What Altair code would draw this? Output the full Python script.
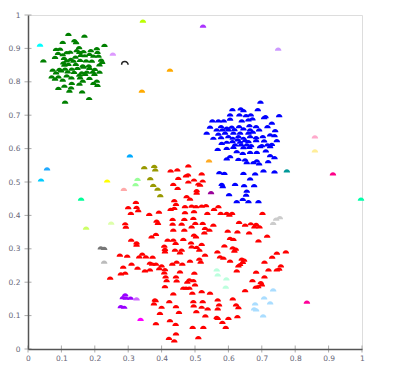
import altair as alt
import pandas as pd

# ---------------- data ----------------
green_x = [0.121,0.169,0.104,0.139,0.144,0.229,0.084,0.096,0.153,0.166,0.188,0.206,0.090,0.104,0.116,0.126,0.146,0.154,0.208,0.211,
           0.081,0.108,0.128,0.142,0.158,0.170,0.184,0.196,0.219,0.046,0.106,0.116,0.136,0.156,0.174,0.191,0.222,0.109,0.121,0.143,
           0.164,0.182,0.214,0.074,0.094,0.111,0.131,0.148,0.166,0.184,0.200,0.084,0.099,0.119,0.138,0.161,0.176,0.194,0.214,0.071,
           0.091,0.116,0.154,0.171,0.199,0.081,0.104,0.130,0.156,0.184,0.206,0.164,0.131,0.109,0.154,0.196,0.208,0.091,0.129,0.124,
           0.162,0.183,0.111]
green_y = [0.942,0.937,0.918,0.923,0.917,0.909,0.897,0.898,0.902,0.890,0.893,0.899,0.885,0.881,0.887,0.889,0.893,0.888,0.888,0.877,
           0.873,0.870,0.867,0.874,0.879,0.878,0.882,0.877,0.865,0.863,0.857,0.863,0.862,0.864,0.863,0.862,0.858,0.850,0.852,0.852,
           0.848,0.848,0.851,0.835,0.837,0.838,0.838,0.840,0.844,0.840,0.837,0.827,0.833,0.830,0.828,0.827,0.829,0.829,0.829,0.815,
           0.815,0.818,0.820,0.822,0.822,0.808,0.805,0.812,0.812,0.810,0.802,0.802,0.795,0.787,0.793,0.795,0.789,0.780,0.782,0.772,
           0.770,0.750,0.739]

blue_x = [0.696,0.612,0.637,0.645,0.688,0.605,0.633,0.653,0.667,0.711,0.752,0.552,0.570,0.586,0.605,0.640,0.660,0.672,0.707,0.730,
          0.545,0.578,0.595,0.610,0.632,0.663,0.683,0.717,0.535,0.565,0.582,0.600,0.618,0.645,0.665,0.692,0.740,0.570,0.590,0.615,
          0.635,0.660,0.673,0.738,0.555,0.578,0.600,0.613,0.630,0.645,0.665,0.683,0.703,0.725,0.595,0.612,0.628,0.635,0.650,0.660,
          0.683,0.707,0.745,0.580,0.620,0.638,0.655,0.668,0.700,0.717,0.730,0.568,0.595,0.615,0.645,0.663,0.695,0.725,0.625,0.643,
          0.665,0.685,0.712,0.605,0.595,0.630,0.650,0.685,0.725,0.655,0.675,0.692,0.719,0.738,0.573,0.588,0.645,0.680,0.665,0.705,
          0.738,0.580,0.583,0.620,0.647,0.677,0.655,0.653,0.602,0.643,0.625,0.660,0.690]
blue_y = [0.739,0.717,0.719,0.714,0.717,0.701,0.701,0.699,0.701,0.696,0.699,0.683,0.683,0.683,0.688,0.683,0.686,0.689,0.693,0.676,
          0.664,0.666,0.661,0.664,0.666,0.669,0.666,0.666,0.646,0.656,0.656,0.656,0.657,0.659,0.656,0.656,0.654,0.643,0.646,0.646,
          0.646,0.646,0.649,0.639,0.631,0.633,0.636,0.631,0.636,0.631,0.636,0.633,0.636,0.641,0.619,0.621,0.626,0.619,0.624,0.621,
          0.624,0.623,0.624,0.616,0.611,0.611,0.611,0.609,0.609,0.611,0.613,0.598,0.601,0.604,0.603,0.604,0.606,0.606,0.591,0.586,
          0.589,0.589,0.593,0.576,0.569,0.568,0.566,0.563,0.579,0.558,0.558,0.554,0.561,0.573,0.528,0.526,0.526,0.524,0.509,0.533,
          0.530,0.493,0.486,0.493,0.489,0.489,0.473,0.461,0.462,0.448,0.441,0.441,0.441]

red_x = [0.480,0.427,0.447,0.473,0.479,0.450,0.497,0.480,0.510,0.435,0.448,0.505,0.505,0.475,0.485,0.323,0.438,0.443,0.470,0.490,
         0.503,0.300,0.325,0.427,0.438,0.497,0.470,0.330,0.308,0.363,0.392,0.433,0.468,0.495,0.385,0.389,0.291,0.293,0.433,0.460,
         0.501,0.435,0.468,0.490,0.530,0.383,0.370,0.418,0.435,0.465,0.497,0.503,0.309,0.325,0.325,0.408,0.410,0.440,0.460,0.490,
         0.505,0.513,0.275,0.297,0.333,0.353,0.373,0.342,0.455,0.530,
         0.520,0.523,0.515,0.520,0.533,0.557,0.570,0.537,0.577,0.595,0.603,0.611,0.702,0.523,0.555,0.632,0.650,0.667,0.678,0.683,
         0.693,0.543,0.528,0.598,0.627,0.662,0.716,0.605,0.615,0.690,0.520,
         0.285,0.310,0.328,0.350,0.278,0.291,0.246,0.365,
         0.442,0.488,0.410,0.567,0.588,0.613,0.622,0.618,0.640,0.647,0.643,0.635,0.630,0.625,0.605,0.575,0.585,0.745,0.772,0.731,
         0.757,0.745,0.752,0.720,0.708,0.683,0.708,0.672,0.697,0.700,0.682,0.689,0.650,0.383,0.400,0.410,0.393,0.408,0.365,0.372,
         0.432,0.445,0.462,0.485,0.513,0.517,0.455,0.443,0.445,0.412,0.415,0.410,0.477,0.483,0.495,0.500,0.483,0.473,0.465,0.498,
         0.492,0.520,0.545,0.435,0.380,0.377,0.423,0.400,0.443,0.452,0.495,0.523,0.538,0.520,0.568,0.572,0.568,0.613,0.623,0.630,
         0.568,0.565,0.582,0.600,0.627,0.592,0.395,0.425,0.442,0.493,0.525,0.422,0.510,0.443,
         0.382,0.383,0.438,0.531,0.504,0.496]
red_y = [0.548,0.533,0.536,0.518,0.521,0.511,0.506,0.500,0.494,0.493,0.481,0.474,0.467,0.456,0.449,0.439,0.444,0.433,0.426,0.428,
         0.426,0.423,0.424,0.418,0.421,0.411,0.408,0.414,0.406,0.403,0.410,0.388,0.388,0.391,0.383,0.376,0.375,0.365,0.374,0.374,
         0.376,0.356,0.356,0.366,0.361,0.343,0.336,0.326,0.326,0.328,0.341,0.336,0.326,0.318,0.311,0.308,0.298,0.296,0.296,0.306,
         0.304,0.296,0.281,0.278,0.276,0.276,0.275,0.284,0.288,0.281,
         0.524,0.503,0.491,0.428,0.429,0.418,0.426,0.406,0.406,0.406,0.401,0.406,0.406,0.376,0.371,0.379,0.371,0.375,0.366,0.373,
         0.366,0.356,0.348,0.353,0.351,0.348,0.338,0.331,0.328,0.324,0.313,
         0.245,0.254,0.242,0.234,0.225,0.227,0.212,0.237,
         0.316,0.318,0.291,0.291,0.309,0.303,0.299,0.293,0.269,0.266,0.259,0.253,0.249,0.234,0.263,0.276,0.272,0.287,0.291,0.275,
         0.249,0.237,0.239,0.237,0.260,0.230,0.216,0.205,0.199,0.192,0.185,0.187,0.175,0.254,0.249,0.238,0.241,0.228,0.257,0.254,
         0.254,0.260,0.254,0.263,0.269,0.260,0.231,0.216,0.204,0.216,0.205,0.187,0.200,0.207,0.205,0.192,0.182,0.182,0.182,0.227,
         0.167,0.172,0.167,0.165,0.147,0.135,0.142,0.125,0.127,0.110,0.142,0.142,0.120,0.125,0.147,0.132,0.120,0.150,0.132,0.124,
         0.092,0.095,0.080,0.092,0.097,0.065,0.107,0.085,0.074,0.065,0.065,0.032,0.034,0.045,
         0.145,0.076,0.024,0.099,0.112,0.129]

other_x = [0.036,0.344,0.524,0.254,0.425,0.749,0.341,0.305,0.542,0.859,0.859,0.775,0.913,0.997,0.057,0.039,0.159,0.237,0.287,
           0.328,0.322,0.348,0.378,0.381,0.366,0.375,0.388,0.396,0.249,0.174,0.218,0.228,0.228,0.734,0.743,0.754,
           0.291,0.284,0.293,0.307,0.278,0.288,0.325,0.337,0.835,0.734,0.707,0.725,0.680,0.677,0.683,0.704,
           0.565,0.568,0.594,0.592,0.548]
other_y = [0.910,0.982,0.967,0.883,0.835,0.898,0.772,0.578,0.563,0.635,0.593,0.533,0.524,0.449,0.539,0.506,0.449,0.503,0.478,
           0.508,0.492,0.543,0.547,0.536,0.510,0.490,0.479,0.459,0.377,0.362,0.303,0.301,0.260,0.376,0.389,0.393,
           0.162,0.154,0.152,0.152,0.127,0.125,0.150,0.089,0.140,0.177,0.153,0.138,0.135,0.120,0.117,0.099,
           0.237,0.222,0.210,0.185,0.468]
other_color = ["#00ffff","#bbff00","#aa33ff","#dd99ff","#ffaa00","#cc99ff","#ffaa00","#00aaff","#ffaa22","#ffaacc","#ffee99",
               "#009999","#ff0088","#00ffaa","#22aaff","#00ccff","#00ff99","#ffff00","#ffaaaa",
               "#99ff99","#99ff99","#999900","#999900","#999900","#999900","#999900","#999900","#999900","#ddffaa","#ccff66",
               "#777777","#777777","#bbbbbb","#cccccc","#cccccc","#cccccc",
               "#9900ff","#9900ff","#9900ff","#9900ff","#9900ff","#9900ff","#cc66ff","#ff00ff","#ff0099",
               "#aaddff","#aaddff","#aaddff","#aaddff","#aaddff","#aaddff","#aaddff",
               "#bbffdd","#bbffdd","#bbffdd","#bbffdd","#990099"]

arc_x = [0.290]
arc_y = [0.856]

tick_values = [0, 0.1, 0.2, 0.3, 0.4, 0.5, 0.6, 0.7, 0.8, 0.9, 1]

# ---------------- tables ----------------
rows = []
for xs, ys, c in [(green_x, green_y, "#008000"), (blue_x, blue_y, "#0000ff"), (red_x, red_y, "#ff0000")]:
    for a, b in zip(xs, ys):
        rows.append({"x": a, "y": b, "c": c})
for a, b, c in zip(other_x, other_y, other_color):
    rows.append({"x": a, "y": b, "c": c})
df = pd.DataFrame(rows)
df_arc = pd.DataFrame({"x": arc_x, "y": arc_y})
df_ticks = pd.DataFrame({"x": tick_values, "y": tick_values})

dome = "M -1 0.5 A 1 1 0 0 1 1 0.5 Z"
arc_path = "M -1 0.5 A 1 1 0 0 1 1 0.5"

scale = alt.Scale(domain=[0, 1], nice=False, zero=False)

axis_common = dict(
    values=tick_values, format="~g", grid=False, ticks=False,
    labelOverlap=False, labelBound=False, labelFlush=False,
    domainColor="#555555", domainWidth=1.5, zindex=1,
    labelFont="DejaVu Sans", labelFontSize=7.5, labelColor="#666677",
    title=None,
)
x_axis = alt.Axis(orient="bottom", labelPadding=5, **axis_common)
y_axis = alt.Axis(orient="left", labelPadding=8, **axis_common)

points = alt.Chart(df).mark_point(
    shape=dome, filled=True, size=42, opacity=1, strokeWidth=0
).encode(
    x=alt.X("x:Q", scale=scale, axis=x_axis),
    y=alt.Y("y:Q", scale=scale, axis=y_axis),
    color=alt.Color("c:N", scale=None),
)

arc = alt.Chart(df_arc).mark_point(
    shape=arc_path, filled=False, size=42, opacity=1, stroke="#222222", strokeWidth=1.5
).encode(
    x=alt.X("x:Q", scale=scale, axis=x_axis),
    y=alt.Y("y:Q", scale=scale, axis=y_axis),
)

# axis ticks that cross the axis lines
y_ticks = alt.Chart(df_ticks).mark_rule(
    color="#aaaaaa", strokeWidth=1, opacity=1, clip=False
).encode(
    x=alt.value(-3.5),
    x2=alt.value(3.5),
    y=alt.Y("y:Q", scale=scale, axis=y_axis),
)
x_ticks = alt.Chart(df_ticks).mark_rule(
    color="#aaaaaa", strokeWidth=1, opacity=1, clip=False
).encode(
    x=alt.X("x:Q", scale=scale, axis=x_axis),
    y=alt.value(330.5),
    y2=alt.value(337.5),
)

chart = alt.layer(points, arc, y_ticks, x_ticks).properties(
    width=334, height=334,
    autosize=alt.AutoSizeParams(type="none"),
    padding={"left": 28, "top": 15, "right": 45, "bottom": 26},
).configure_view(stroke=None).configure(background="white")

chart.save("out.html", embed_options={"renderer": "svg", "actions": False})
